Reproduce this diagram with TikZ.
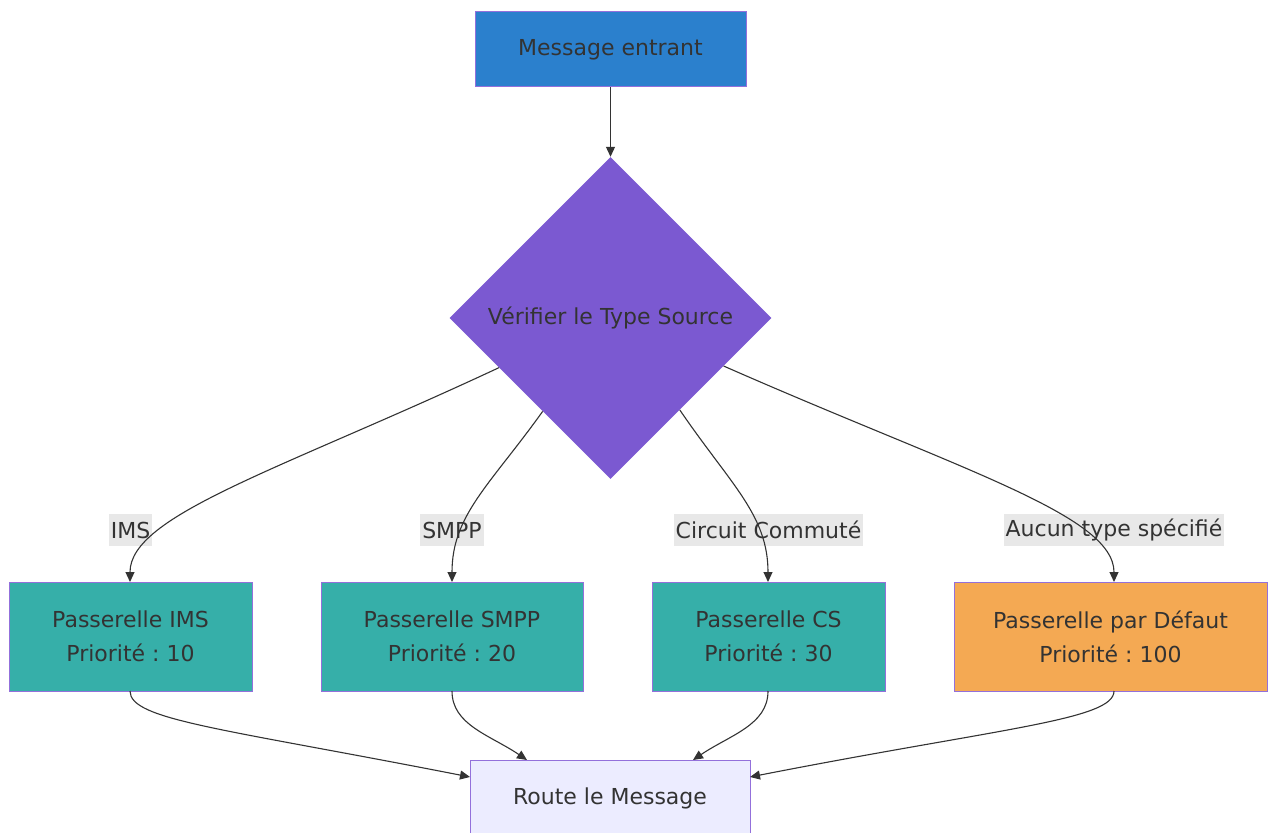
\documentclass[tikz,border=0pt]{standalone}
\usepackage{fontspec}
\setmainfont{DejaVu Sans}
\usetikzlibrary{shapes.geometric,arrows.meta,calc}
\frenchspacing
\definecolor{txt}{HTML}{333333}
\definecolor{bord}{HTML}{9370DB}
\definecolor{cblue}{HTML}{2B80CD}
\definecolor{cpurple}{HTML}{7B59D1}
\definecolor{cteal}{HTML}{36AFA9}
\definecolor{corange}{HTML}{F4A953}
\definecolor{croute}{HTML}{ECECFF}
\definecolor{lblbg}{HTML}{E8E8E8}
\definecolor{edge}{HTML}{333333}
\tikzset{
  box/.style={draw=bord, line width=1pt, text=txt, align=center, inner sep=0pt,
    font=\fontsize{22}{34}\selectfont},
  decide/.style={diamond, draw=none, fill=cpurple, text=txt, inner sep=0pt,
    minimum width=322pt, minimum height=322pt, font=\fontsize{22}{34}\selectfont},
  elabel/.style={fill=lblbg, text=txt, inner xsep=2pt, inner ysep=0pt,
    minimum height=32pt, font=\fontsize{22}{34}\selectfont},
  conn/.style={draw=edge, line width=1.1pt, -{Triangle[length=10pt,width=9pt]}}
}
\begin{document}
\begin{tikzpicture}[x=1pt,y=-1pt]
\useasboundingbox (0,0) rectangle (1268,832);
\fill[white] (0,0) rectangle (1268,832);

\node[box, fill=cblue, minimum width=271pt, minimum height=75pt] (msg) at (610.5,49.5) {Message entrant};
\node[decide] (chk) at (610.5,318) {};
\node[text=txt, font=\fontsize{22}{34}\selectfont] (chklbl) at (610.5,318) {Vérifier le Type Source};

\node[box, fill=cteal, minimum width=243pt, minimum height=109pt] (ims) at (130.5,636.5) {Passerelle IMS\\Priorité : 10};
\node[box, fill=cteal, minimum width=262pt, minimum height=109pt] (smpp) at (452,636.5) {Passerelle SMPP\\Priorité : 20};
\node[box, fill=cteal, minimum width=233pt, minimum height=109pt] (cs) at (768.5,636.5) {Passerelle CS\\Priorité : 30};
\node[box, fill=corange, minimum width=313pt, minimum height=109pt] (def) at (1110.5,636.5) {Passerelle par Défaut\\Priorité : 100};
\node[box, fill=croute, minimum width=280pt, minimum height=76pt] (route) at (610,798) {Route le Message};

\node[elabel] (lims) at (130.5,530) {IMS};
\node[elabel] (lsmpp) at (452,530) {SMPP};
\node[elabel] (lcs) at (768.5,530) {Circuit Commuté};
\node[elabel] (ldef) at (1114,530) {Aucun type spécifié};

\coordinate (imsIn) at (130,582);
\coordinate (smppIn) at (452,582);
\coordinate (csIn) at (768,582);
\coordinate (defIn) at (1114,582);
\coordinate (imsOut) at (130,691);
\coordinate (smppOut) at (452,691);
\coordinate (csOut) at (768,691);
\coordinate (defOut) at (1114,691);
\coordinate (rIms) at (470,777);
\coordinate (rSmpp) at (527,760);
\coordinate (rCs) at (693,760);
\coordinate (rDef) at (750,777);

\draw[conn] (msg.south) -- (chk.north);
\draw[conn] (chk.-156) .. controls (280,470) and (130,515) .. (imsIn);
\draw[conn] (chk.-126.7) .. controls (490,485) and (452,515) .. (smppIn);
\draw[conn] (chk.-53.3) .. controls (731,485) and (768,515) .. (csIn);
\draw[conn] (chk.-23.5) .. controls (960,470) and (1114,515) .. (defIn);

\draw[conn] (imsOut) .. controls (130,720) and (220,728) .. (rIms);
\draw[conn] (smppOut) .. controls (452,725) and (490,735) .. (rSmpp);
\draw[conn] (csOut) .. controls (768,725) and (730,735) .. (rCs);
\draw[conn] (defOut) .. controls (1114,720) and (1000,728) .. (rDef);
\end{tikzpicture}
\end{document}
